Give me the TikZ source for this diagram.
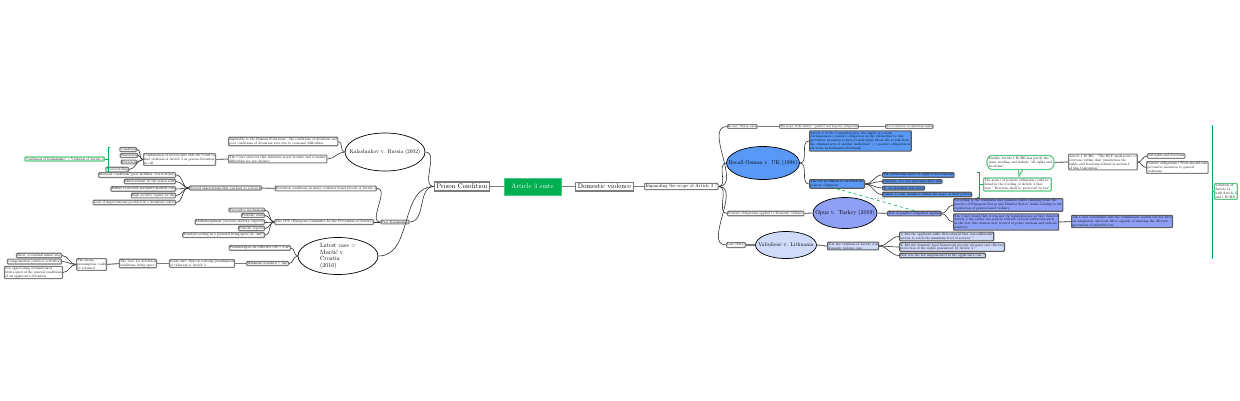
\documentclass[tikz,border=0pt]{standalone}
\usepackage{fontspec}
\setmainfont{lmroman10-regular.otf}
\usetikzlibrary{shapes.geometric,arrows.meta}
\hyphenpenalty=10000
\exhyphenpenalty=10000
\definecolor{boxgray}{RGB}{125,125,125}
\definecolor{linedark}{RGB}{50,50,50}
\definecolor{suitegreen}{RGB}{0,176,80}
\definecolor{softgreen}{RGB}{90,200,130}
\definecolor{osmanblue}{RGB}{90,152,245}
\definecolor{opuzblue}{RGB}{142,160,245}
\definecolor{valblue}{RGB}{208,219,250}
\tikzset{
  leaf/.style={draw=boxgray, line width=1.1pt, fill=white, rounded corners=0.8pt,
    inner sep=0.7pt, font=\fontsize{3.5}{3.9}\selectfont, align=left},
  mainbox/.style={draw=boxgray, line width=1.2pt, fill=white, inner sep=2pt,
    font=\fontsize{6.8}{7.5}\selectfont},
  suitebox/.style={fill=suitegreen, draw=suitegreen!70, text=white, inner sep=2pt,
    minimum width=57pt, minimum height=17pt, font=\fontsize{6.8}{7.5}\selectfont},
  caseell/.style={ellipse, draw=black, line width=0.7pt, inner sep=0pt},
  casetext/.style={inner sep=0pt, align=center},
  brace/.style={draw=linedark, line width=0.6pt},
  trunk/.style={draw=boxgray, line width=1.1pt},
  blueleaf/.style={leaf, draw=linedark!80, fill=osmanblue},
  opuzleaf/.style={leaf, draw=linedark!80, fill=opuzblue},
  valleaf/.style={leaf, draw=linedark!80, fill=valblue},
  greenbox/.style={leaf, draw=softgreen, line width=1.1pt},
  greenline/.style={draw=suitegreen, line width=0.8pt},
  toprow/.style={leaf, font=\fontsize{3}{3.4}\selectfont, inner sep=0.5pt},
}
\begin{document}
\begin{tikzpicture}[x=1pt,y=-1pt]
\fill[white] (0,0) rectangle (1240,400);
\useasboundingbox (0,0) rectangle (1240,400);

% ---------- centre ----------
\node[mainbox] (prison) at (462,186.5) {Prison Condition};
\node[suitebox] (suite) at (532.5,186.5) {Article 3 suite};
\node[mainbox] (dom) at (604.5,186.5) {Domestic violence};
\draw[trunk] (prison) -- (suite);
\draw[trunk] (suite) -- (dom);

% ---------- Kalashnikov ----------
\node[caseell, minimum width=80pt, minimum height=38pt] (kal) at (385,152) {};
\node[casetext, font=\fontsize{5.5}{6.5}\selectfont] (kalt) at (kal.center) {Kalashnikov v. Russia (2002)};
\node[leaf, anchor=west] (imput) at (228,141.5) {Imputable to the Russian Federation : the conditions of detention and\\poor conditions of detention were due to economic difficulties};
\node[leaf, anchor=west] (court) at (228,159) {The Court observes that intention is not decisive and economic\\difficulties are not decisive};
\node[leaf, anchor=west] (comb) at (143,159.5) {Combination of factors that able the Court to\\find violation of Article 3 as person detention\\in cell};
\node[leaf, anchor=east] (c1) at (137,149.5) {Condition};
\node[leaf, anchor=east] (c2) at (138,155.5) {Sanitation};
\node[leaf, anchor=east] (c3) at (137,162) {Duration};
\node[leaf, anchor=east] (c4) at (129,169.5) {Overcrowding};
\node[greenbox, anchor=east] (concl) at (105,159) {Conclusion of Kalashnikov = Violation of Article 3};

\draw[brace] (prison.west) to[out=180,in=0] (kal.east);
\draw[brace] (kal.west) to[out=180,in=0] (imput.east);
\draw[brace] (kal.west) to[out=180,in=0] (court.east);
\draw[trunk] (court.west) -- (comb.east);
\foreach \c in {c1,c2,c3,c4} \draw[brace] (comb.west) to[out=180,in=0] (\c.east);
\coordinate (gbt) at (108,147);
\coordinate (gbb) at (108,172);
\coordinate (gbm) at (108,159);
\draw[greenline] ([xshift=2pt]gbt) -- (gbt) -- (gbb) -- ([xshift=2pt]gbb);
\draw[greenline] (gbm) -- (concl.east);

% ---------- Past Kalashnikov ----------
\node[leaf] (past) at (395,222) {Past Kalashnikov};
\node[leaf, anchor=east] (detc) at (377,188.5) {Detention conditions in many countries found breach of Article 3};
\node[leaf, anchor=east] (sev) at (262,188) {Several observations that can lead to a breach};
\node[leaf, anchor=east] (mat) at (176,175) {Material conditions (poor facilities, overcrowded)};
\node[leaf, anchor=east] (staff) at (176,181.5) {Mistreatment by the prison staff};
\node[leaf, anchor=east] (med) at (176,189) {Failure to provide necessary medical care};
\node[leaf, anchor=east] (high) at (176,195.5) {High security regime for life};
\node[leaf, anchor=east] (lack) at (176,202.5) {Lack of improvements provided in a detention centre};
\draw[brace] (prison.west) to[out=180,in=0] (past.east);
\draw[brace] (past.west) to[out=180,in=0] (detc.east);
\draw[trunk] (detc.west) -- (sev.east);
\foreach \c in {mat,staff,med,high,lack} \draw[brace] (sev.west) to[out=180,in=0] (\c.east);

\node[leaf, anchor=east] (cpt) at (374,222) {The CPT (European Committee for the Prevention of Torture)};
\node[leaf, anchor=east] (prev) at (265,210) {Preventive mechanism};
\node[leaf, anchor=east] (visit) at (265,215.5) {Periodic visits};
\node[leaf, anchor=east] (multi) at (265,222) {Multidisciplinary (doctors, lawyers, experts)};
\node[leaf, anchor=east] (rep) at (265,228.5) {Periodic reports};
\node[leaf, anchor=east] (std) at (265,235) {Standard setting in a personal living space (ie. 4m²)};
\draw[brace] (past.west) to[out=180,in=0] (cpt.east);
\foreach \c in {prev,visit,multi,rep,std} \draw[brace] (cpt.west) to[out=180,in=0] (\c.east);

% ---------- Mursic ----------
\node[caseell, minimum width=80pt, minimum height=37pt] (mur) at (338,256) {};
\node[casetext, align=left, font=\fontsize{6}{6.5}\selectfont] (murt) at (mur.center) {Latest case =\\Muršić v.\\Croatia\\(2016)};
\node[leaf, anchor=east] (pers) at (291,248) {Personal space in collective cell = 3 m²};
\node[leaf, anchor=east] (mini) at (289,263.5) {Minimum standard = 3m²};
\node[leaf, anchor=east] (below) at (235,263.5) {below 3m²: there is a strong presumption\\of violation of Article 3};
\node[leaf, anchor=east] (test) at (157,263.5) {The 'test' for detention\\conditions living space};
\node[leaf, anchor=east] (rebut) at (107,264.5) {The strong\\presumption could\\be rebutted};
\node[leaf, anchor=east] (short) at (62,255.5) {Short, occasional minor stay};
\node[leaf, anchor=east] (comp) at (62,261.5) {Compensation (outdoor activities)};
\node[leaf, anchor=east] (notagg) at (63,272.5) {Not aggravating circumstances\\with regard of the general conditions\\of an applicant's detention};
\draw[brace] (prison.west) to[out=180,in=0] (mur.east);
\draw[brace] (mur.west) to[out=180,in=0] (pers.east);
\draw[brace] (mur.west) to[out=180,in=0] (mini.east);
\draw[trunk] (mini.west) -- (below.east);
\draw[trunk] (below.west) -- (test.east);
\draw[trunk] (test.west) -- (rebut.east);
\foreach \c in {short,comp,notagg} \draw[brace] (rebut.west) to[out=180,in=0] (\c.east);

% ---------- Right side ----------
\node[leaf, anchor=west, font=\fontsize{4.7}{5.2}\selectfont, inner sep=1pt] (resp) at (644,186.5) {Expanding the scope of Article 3 ?};
\draw[trunk] (dom) -- (resp);

\node[toprow, anchor=west] (top1) at (727,126.5) {In case : States, ideas};
\node[toprow, anchor=west] (top2) at (779,126.5) {The scope of the Article : positive and negative obligations};
\node[toprow, anchor=west] (top3) at (885,126.5) {Not to interfere in individual rights};
\draw[trunk] (top1.east) -- (top2.west);
\draw[trunk] (top2.east) -- (top3.west);

\node[caseell, fill=osmanblue, minimum width=73pt, minimum height=33pt] (osman) at (763,163) {};
\node[casetext, font=\fontsize{5.6}{6.5}\selectfont] (osmant) at (osman.center) {Recall Osman v. UK (1998)};
\node[blueleaf, anchor=west] (osA) at (809,141) {Article 2 of the Convention may also imply in certain\\circumstances a positive obligation on the authorities to take\\preventive measures to protect individual whose life at risk from\\the criminal acts of another individual" ( = positive obligation of\\the state in horizontal situations)};
\node[blueleaf, anchor=west] (osT) at (809,184) {The test in Osman to establish the\\positive obligation :};
\node[blueleaf, anchor=west] (t1) at (882,175) {The authorities knew or ought to have known};
\node[blueleaf, anchor=west] (t2) at (882,181.5) {existence of a real and immediate risk};
\node[blueleaf, anchor=west] (t3) at (882,188) {To an identified individual};
\node[blueleaf, anchor=west] (t4) at (882,194.5) {Failure to take measures within the scope of their powers};

\node[leaf, anchor=west] (posdv) at (727,213.5) {Positive obligations applied to Domestic violence};
\node[caseell, fill=opuzblue, minimum width=64pt, minimum height=31pt] (opuz) at (845,213) {};
\node[casetext, font=\fontsize{5.9}{6.5}\selectfont] (opuzt) at (opuz.center) {Opuz v. Turkey (2009)};
\node[opuzleaf, anchor=west] (testapp) at (887,213.5) {Test of positive obligation applied};
\node[opuzleaf, anchor=west] (opA) at (953,205) {According to the consensus and common values emerging from the\\practice of European States and Member States' duties relating to the\\eradication of gender-based violence};
\node[opuzleaf, anchor=west] (opB) at (953,222) {The Court found that it was not the legislation per se that violated\\Article 3 but rather the general attitude of local authorities such\\as the way that women were treated at police stations and judicial\\passivity.};
\node[opuzleaf, anchor=west] (opC) at (1071,221.5) {The Court established that the criminal-law system did not have\\an adequately deterrent effect capable of ensuring the effective\\prevention of unlawful acts};

\node[leaf, anchor=west] (last) at (726,245) {Last (2013)};
\node[caseell, fill=valblue, minimum width=61pt, minimum height=27pt] (val) at (786,245) {};
\node[casetext, font=\fontsize{5.5}{6.5}\selectfont] (valt) at (val.center) {Valiulienė v. Lithuania};
\node[valleaf, anchor=west] (valT) at (827,246) {Test the violation of Article 3 in\\domestic violence case};
\node[valleaf, anchor=west] (v1) at (899,236.5) {1) Did the applicant suffer ill-treatment that was sufficiently\\serious to reach the minimum level of severity ?};
\node[valleaf, anchor=west] (v2) at (899,247) {2) Did the domestic legal framework provide adequate and effective\\protection of the rights guaranteed by Article 3 ?};
\node[valleaf, anchor=west] (v3) at (899,255.5) {How was the law implemented in the applicant's case ?};

\foreach \c in {top1,osman,posdv,last} \draw[brace] (resp.east) to[out=0,in=180] (\c.west);
\draw[brace] (osman.east) to[out=0,in=180] (osA.west);
\draw[brace] (osman.east) to[out=0,in=180] (osT.west);
\foreach \c in {t1,t2,t3,t4} \draw[brace] (osT.east) to[out=0,in=180] (\c.west);
\draw[trunk] (posdv.east) -- (opuz.west);
\draw[trunk] (opuz.east) -- (testapp.west);
\draw[brace] (testapp.east) to[out=0,in=180] (opA.west);
\draw[brace] (testapp.east) to[out=0,in=180] (opB.west);
\draw[trunk] (opB.east) -- (opC.west);
\draw[trunk] (last.east) -- (val.west);
\draw[trunk] (val.east) -- (valT.west);
\foreach \c in {v1,v2,v3} \draw[brace] (valT.east) to[out=0,in=180] (\c.west);

\draw[suitegreen, line width=0.6pt, dashed, -{Stealth[length=3pt]}] (testapp.north) to (osT.south);
\node[font=\fontsize{2.5}{3}\selectfont, text=gray] (same) at (877,199) {same reasoning};

% ---------- source of positive obligation ----------
\node[greenbox, anchor=west, inner sep=1pt] (source) at (983,184.5) {The source of positive obligation could be\\found in the wording of Article 3 that\\says " Everyone shall be protected by law"};
\coordinate (sbt) at (979,172);
\coordinate (sbb) at (979,197);
\coordinate (sbm) at (979,184.5);
\draw[greenline] ([xshift=-2pt]sbt) -- (sbt) -- (sbb) -- ([xshift=-2pt]sbb);
\draw[greenline] (sbm) -- (source.west);

\node[leaf, draw=softgreen, line width=1.1pt, rounded corners=6pt, inner sep=2pt] (luck) at (1020.5,162.5) {Luckily Article 1 ECHR has partly the\\same wording and include "all rights and\\freedoms"};
\coordinate (ptip) at (1019,176);
\draw[softgreen, line width=1.1pt, fill=white] ([xshift=-2pt]luck.south) -- (ptip) -- ([xshift=2pt]luck.south);

\node[leaf, anchor=west] (art1) at (1068,162) {Article 1 ECHR : "The HCP shall secure to\\everyone within their jurisdiction the\\rights and freedoms defined in section I\\of this Convention."};
\node[leaf, anchor=west] (allr) at (1147,156) {All rights and freedoms};
\node[leaf, anchor=west] (posob) at (1146,167.5) {Positive obligations ! State should take\\preventive measures to general\\violations};
\draw[trunk] (luck.east) -- (art1.west);
\draw[brace] (art1.east) to[out=0,in=180] (allr.west);
\draw[brace] (art1.east) to[out=0,in=180] (posob.west);

% ---------- final summary ----------
\coordinate (vt) at (1212,125);
\coordinate (vb) at (1212,259);
\coordinate (vm) at (1212,191.5);
\draw[suitegreen, line width=0.9pt] (vt) -- (vb);
\node[greenbox, anchor=west] (viol) at (1214,191.5) {Violation of\\Article 14\\with Article 3\\and 1 ECHR};
\draw[greenline] (vm) -- (viol.west);
\end{tikzpicture}
\end{document}
